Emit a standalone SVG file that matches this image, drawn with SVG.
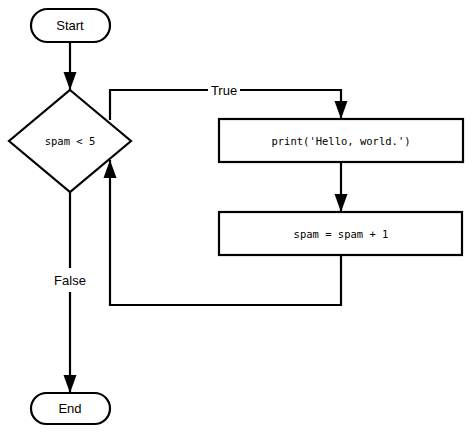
<svg xmlns="http://www.w3.org/2000/svg" width="474" height="433" viewBox="0 0 474 433">
<style>
.s{fill:#fff;stroke:#000;stroke-width:2.2}
.c{fill:none;stroke:#000;stroke-width:2.2}
.t{font-family:"Liberation Sans",Arial,sans-serif;font-size:13px;fill:#000;text-anchor:middle;dominant-baseline:central}
.m{font-family:"DejaVu Sans Mono","Liberation Mono",monospace;font-size:10.5px;fill:#000;text-anchor:middle;dominant-baseline:central}
</style>
<defs>
<marker id="a" viewBox="0 0 10 10" refX="10" refY="5" markerWidth="10" markerHeight="10" markerUnits="userSpaceOnUse" orient="auto" overflow="visible">
<path d="M-8,-1.5 L10,5 L-8,11.5 Z" fill="#000" transform="translate(0,0) scale(1,1)"/>
</marker>
</defs>
<g id="connectors">
<path class="c" d="M70,42 V90" marker-end="url(#a)"/>
<path class="c" d="M110,120 V90 H208 M240,90 H341 V119" marker-end="url(#a)"/>
<path class="c" d="M341,162 V212" marker-end="url(#a)"/>
<path class="c" d="M341,255 V305 H110 V160" marker-end="url(#a)"/>
<path class="c" d="M70,192 V268 M70,292 V393" marker-end="url(#a)"/>
<text class="t" x="224" y="90">True</text>
<text class="t" x="70" y="280">False</text>
</g>
<g id="start">
<rect class="s" x="31" y="9" width="79" height="33" rx="16.5"/>
<text class="t" x="70" y="25.5">Start</text>
</g>
<g id="cond">
<polygon class="s" points="70,90 131,141 70,192 9,141"/>
<text class="m" x="70" y="141">spam &lt; 5</text>
</g>
<g id="print">
<rect class="s" x="219" y="119" width="244" height="43"/>
<text class="m" x="341" y="141">print('Hello, world.')</text>
</g>
<g id="inc">
<rect class="s" x="219" y="212" width="243" height="43"/>
<text class="m" x="341" y="234">spam = spam + 1</text>
</g>
<g id="end">
<rect class="s" x="31" y="393" width="79" height="31" rx="15.5"/>
<text class="t" x="70" y="408.5">End</text>
</g>
</svg>
